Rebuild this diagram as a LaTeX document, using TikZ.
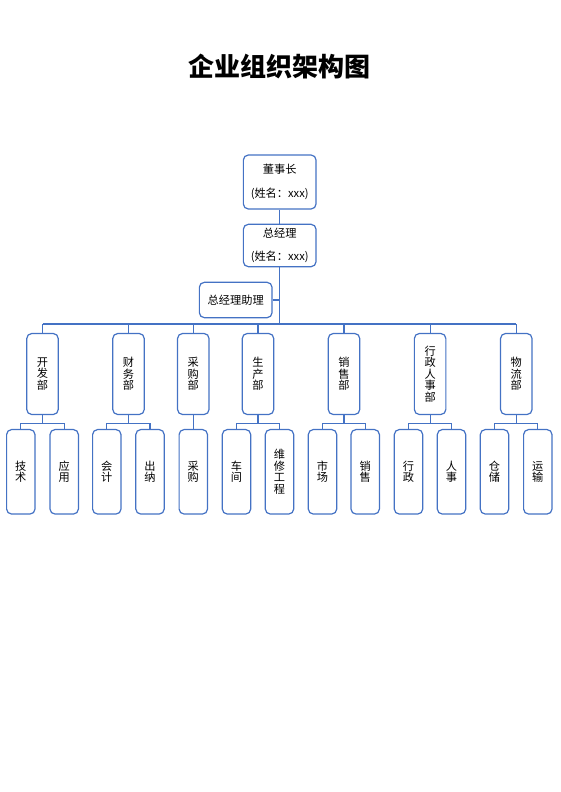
\documentclass[tikz,border=0pt]{standalone}
\usepackage{fontspec}
\setmainfont{Noto Sans CJK SC}
\usetikzlibrary{calc}
\definecolor{boxblue}{RGB}{68,114,196}
\tikzset{
  box/.style={draw=boxblue, line width=1.2pt, rounded corners=5pt, fill=white, inner sep=0pt, align=center, font=\fontsize{11.2}{11.5}\selectfont},
  topbox/.style={box, minimum width=72.7pt, font=\fontsize{11.2}{23.5}\selectfont},
  deptbox/.style={box, minimum width=31.5pt, minimum height=81pt},
  leafbox/.style={box, minimum width=28.4pt, minimum height=84.5pt},
  conn/.style={draw=boxblue, line width=1.2pt}
}
\begin{document}
\begin{tikzpicture}[x=1pt,y=-1pt]
\useasboundingbox (0,0) rectangle (560,792);
\node[font=\fontsize{26}{26}\selectfont\bfseries] (title) at (279,67) {企业组织架构图};

\node[topbox, minimum height=54pt] (ceo) at (279.7,182) {董事长\\(姓名：xxx)};
\node[topbox, minimum height=42.4pt] (gm) at (279.7,245.5) {总经理\\(姓名：xxx)};
\node[topbox, minimum height=35.4pt] (asst) at (235.7,300) {总经理助理};

\node[deptbox] (d1) at (42.5,374) {开\\发\\部};
\node[deptbox] (d2) at (128.5,374) {财\\务\\部};
\node[deptbox] (d3) at (193.3,374) {采\\购\\部};
\node[deptbox] (d4) at (258,374) {生\\产\\部};
\node[deptbox] (d5) at (344,374) {销\\售\\部};
\node[deptbox] (d6) at (430.1,374) {行\\政\\人\\事\\部};
\node[deptbox] (d7) at (516.3,374) {物\\流\\部};

\node[leafbox] (l1) at (20.8,471.8) {技\\术};
\node[leafbox] (l2) at (64.2,471.8) {应\\用};
\node[leafbox] (l3) at (106.8,471.8) {会\\计};
\node[leafbox] (l4) at (150,471.8) {出\\纳};
\node[leafbox] (l5) at (193.3,471.8) {采\\购};
\node[leafbox] (l6) at (236.5,471.8) {车\\间};
\node[leafbox] (l7) at (279.5,471.8) {维\\修\\工\\程};
\node[leafbox] (l8) at (322.5,471.8) {市\\场};
\node[leafbox] (l9) at (365.2,471.8) {销\\售};
\node[leafbox] (l10) at (408.5,471.8) {行\\政};
\node[leafbox] (l11) at (451.5,471.8) {人\\事};
\node[leafbox] (l12) at (494.5,471.8) {仓\\储};
\node[leafbox] (l13) at (537.8,471.8) {运\\输};

% top connectors
\draw[conn] (ceo.south) -- (gm.north);
\coordinate (busL) at (d1.north |- 0,324);
\coordinate (busR) at (d7.north |- 0,324);
\draw[conn] (gm.south) -- (gm.south |- busL);
\draw[conn] (asst.east) -- (asst.east -| gm.south);
\draw[conn] (busL) -- (busR);
\foreach \d in {d1,d2,d3,d4,d5,d6,d7} {
  \draw[conn] (\d.north) -- (\d.north |- busL);
}

% department to leaf connectors
\foreach \d/\a/\b in {d1/l1/l2, d2/l3/l4, d4/l6/l7, d5/l8/l9, d6/l10/l11, d7/l12/l13} {
  \coordinate (j\d) at ($(\d.south)+(0,8)$);
  \draw[conn] (\d.south) -- (j\d);
  \draw[conn] (\a.north) |- (j\d) -| (\b.north);
}
\draw[conn] (d3.south) -- (l5.north);
\end{tikzpicture}
\end{document}
